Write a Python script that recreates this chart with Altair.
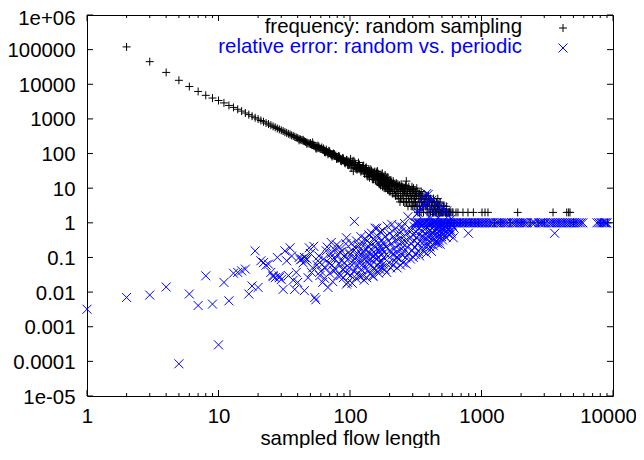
import json
import altair as alt
import pandas as pd

# ---------------- data ----------------
# frequency (random sampling): (sampled flow length, frequency)
freq_points = [
    (2, 120000), (3, 45000), (4, 22000), (5, 13000), (6, 8600), (7, 6200), (8, 4800), (9, 4000),
    (10, 3400), (11, 2900), (12, 2450), (13, 2150), (14, 1900), (15, 1680), (16, 1480), (17, 1330),
    (18, 1200), (19, 1080), (20, 990), (21, 900), (22, 830), (23, 760), (24, 710), (25, 660),
    (26, 610), (27, 570), (28, 530), (29, 500), (30, 470), (31, 445), (32, 415), (33, 395),
    (34, 372), (35, 355), (36, 335), (37, 322), (38, 305), (39, 290), (40, 278), (41, 266),
    (42, 255), (43, 245), (44, 234), (45, 226), (46, 216), (47, 209), (48, 200), (49, 193),
    (50, 187), (51, 180), (52, 176), (53, 168), (54, 163), (55, 158), (56, 154), (57, 148),
    (58, 145), (59, 140), (60, 136), (41, 240), (44, 250), (47, 190), (50, 200), (53, 180),
    (56, 140), (58, 160), (62, 128), (63, 125), (64, 121), (66, 115), (67, 110), (68, 108),
    (70, 103), (71, 98), (73, 95), (74, 91), (76, 87), (77, 84), (79, 80), (80, 78), (82, 75),
    (84, 72), (85, 69), (87, 66), (88, 64), (90, 62), (92, 59), (93, 57), (95, 56), (97, 53),
    (99, 51), (100, 50), (63, 140), (65, 108), (69, 120), (72, 90), (75, 100), (78, 88), (81, 70),
    (83, 82), (86, 60), (89, 72), (91, 55), (94, 66), (96, 48), (98, 60),
    (52, 210), (55, 140), (57, 170), (61, 150), (64, 110), (66, 130), (68, 95), (70, 115),
    (73, 82), (76, 97), (79, 70), (82, 85), (85, 62), (88, 75), (92, 52), (95, 64), (98, 46),
    (103, 49), (105, 46), (106, 31), (108, 44), (110, 47), (112, 40), (114, 43), (115, 36),
    (117, 41), (119, 35), (120, 39), (122, 33), (124, 37), (126, 31), (128, 35), (130, 30),
    (132, 33), (134, 28), (136, 31), (138, 26), (140, 30), (142, 25), (145, 28), (147, 23),
    (150, 27), (152, 22), (155, 25), (157, 20), (160, 23), (163, 19), (165, 22), (168, 17),
    (170, 20), (173, 16), (175, 19), (178, 15), (180, 18), (183, 14), (186, 17), (189, 13),
    (192, 15), (195, 12), (198, 14), (200, 11), (104, 60), (109, 55), (113, 34), (118, 48),
    (125, 44), (131, 38), (137, 22), (144, 35), (151, 18), (158, 30), (166, 14), (172, 24),
    (181, 12), (190, 20), (197, 9), (162, 31), (176, 27), (185, 24), (194, 21), (170, 13), (188, 11),
    (101, 70), (102, 38), (107, 62), (111, 36), (116, 55), (121, 30), (127, 45), (129, 26),
    (133, 40), (135, 22), (139, 36), (141, 20), (146, 32), (148, 18), (153, 30), (156, 17),
    (159, 27), (161, 15), (164, 26), (167, 13), (169, 24), (171, 12), (174, 22), (177, 11),
    (179, 21), (182, 10), (184, 19), (187, 10), (191, 18), (193, 9), (196, 16), (199, 8),
    (203, 16), (206, 10), (209, 13), (212, 11), (215, 14), (218, 9), (221, 12), (224, 8),
    (227, 11), (230, 10), (233, 7), (236, 12), (240, 9), (240, 4), (243, 8), (246, 11), (250, 7),
    (253, 9), (256, 6), (260, 8), (263, 10), (266, 7), (268, 16), (270, 6), (274, 8), (278, 5),
    (282, 7), (286, 9), (290, 6), (294, 5), (298, 7), (302, 4), (306, 6), (310, 5), (315, 4),
    (320, 6), (325, 3), (330, 5), (335, 4), (340, 3), (345, 5), (350, 4), (356, 3), (362, 2),
    (368, 4), (374, 3), (380, 3), (386, 2), (392, 4), (398, 2), (404, 3), (410, 2), (417, 3),
    (424, 2), (431, 2), (438, 3), (445, 2), (452, 2), (460, 3), (468, 2), (470, 3), (476, 2),
    (485, 4), (485, 2), (494, 1), (500, 3), (503, 2), (512, 2), (520, 3), (522, 1), (532, 2),
    (540, 3), (542, 2), (553, 1), (565, 2), (576, 2), (590, 1),
    (201, 17), (204, 8), (207, 15), (210, 7), (213, 16), (216, 7), (219, 13), (222, 6),
    (225, 14), (228, 6), (231, 13), (235, 5), (238, 12), (242, 5), (245, 13), (248, 5),
    (252, 11), (255, 4), (258, 10), (262, 4), (265, 12), (269, 4), (272, 10), (276, 3),
    (280, 11), (284, 4), (288, 8), (292, 3), (297, 9), (300, 3), (304, 10), (308, 3),
    (314, 7), (318, 3), (324, 8), (328, 2), (333, 7), (337, 2), (343, 6), (347, 2), (353, 6),
    (360, 5), (365, 3), (371, 5), (377, 4), (383, 6), (389, 3), (396, 5), (402, 4), (407, 2),
    (414, 4), (421, 3), (428, 4), (435, 2), (441, 3), (449, 3), (457, 2), (463, 3), (473, 2),
    (480, 3), (490, 2), (497, 2), (508, 2), (515, 3), (528, 2), (535, 2), (548, 2), (558, 2),
    (570, 2), (584, 2), (598, 2),
    (296, 11), (305, 9), (312, 8), (322, 10), (338, 7), (348, 8), (358, 6), (372, 6), (384, 5),
    (395, 6), (408, 5), (420, 4), (432, 5), (442, 4), (455, 4), (465, 5),
    (607, 2), (622, 1), (640, 2), (662, 2), (690, 1), (723, 2), (760, 1), (789, 2), (830, 1),
    (867, 2), (892, 1), (950, 1), (1009, 2), (1063, 2), (1120, 2), (1260, 1), (1400, 1),
    (1650, 1), (1884, 2), (2000, 1), (2340, 1), (2700, 1), (3000, 1), (3500, 2), (4450, 2),
    (4600, 2), (4710, 2), (5000, 1), (8000, 1), (9100, 1),
]

# relative error (random vs. periodic): scattered values below / above 1
err_points = [
    (1, 0.0032), (2, 0.007), (3, 0.0082), (4, 0.014), (5, 0.000085), (6, 0.0088), (7, 0.0041),
    (8, 0.0295), (9, 0.0045), (10, 0.0003), (11, 0.019), (12, 0.0056), (13, 0.035), (14, 0.037),
    (15, 0.041), (16, 0.046), (17, 0.0088), (18, 0.015), (19, 0.155), (20, 0.0136), (21, 0.08),
    (22, 0.071), (23, 0.06), (24, 0.064), (25, 0.037), (26, 0.028), (26, 0.03), (27, 0.026),
    (28, 0.1), (29, 0.026), (29, 0.029), (30, 0.023), (31, 0.012), (32, 0.155), (33, 0.08),
    (34, 0.03), (35, 0.19), (36, 0.11), (37, 0.022), (38, 0.012), (39, 0.037), (40, 0.019),
    (41, 0.1), (42, 0.085), (43, 0.09), (44, 0.07), (45, 0.1), (45, 0.011), (46, 0.08), (47, 0.09),
    (48, 0.026), (49, 0.19), (50, 0.13), (51, 0.037), (52, 0.05), (53, 0.21), (54, 0.007),
    (55, 0.006), (56, 0.06), (57, 0.08), (58, 0.11), (59, 0.03), (60, 0.04), (61, 0.062),
    (62, 0.019), (63, 0.09), (64, 0.025), (65, 0.05), (66, 0.155), (67, 0.2), (68, 0.0136),
    (69, 0.07), (70, 0.035), (71, 0.1), (72, 0.13), (72, 0.27), (73, 0.06), (74, 0.02), (75, 0.041),
    (76, 0.17), (77, 0.09), (78, 0.045), (79, 0.23), (80, 0.12), (81, 0.03), (82, 0.065), (83, 0.2),
    (84, 0.14), (85, 0.03), (86, 0.08), (87, 0.15), (88, 0.045), (89, 0.026), (90, 0.11),
    (91, 0.07), (92, 0.05), (93, 0.25), (94, 0.017), (94, 0.37), (95, 0.035), (96, 0.019),
    (97, 0.09), (98, 0.14), (99, 0.05),
    (100, 0.12), (101, 0.03), (102, 0.25), (103, 0.06), (104, 0.018), (105, 0.15), (106, 0.08),
    (107, 0.04), (108, 1.1), (109, 0.2), (110, 0.1), (111, 0.025), (112, 0.3), (113, 0.055),
    (114, 0.13), (115, 0.035), (116, 0.22), (117, 0.07), (118, 0.028), (119, 0.17), (120, 0.09),
    (121, 0.4), (122, 0.045), (123, 0.12), (124, 0.03), (125, 0.26), (126, 0.065), (127, 0.15),
    (128, 0.022), (129, 0.09), (130, 0.35), (131, 0.05), (132, 0.18), (133, 0.1), (134, 0.026),
    (135, 0.3), (136, 0.07), (137, 0.14), (138, 0.04), (139, 0.45), (140, 0.2), (141, 0.09),
    (142, 0.034), (143, 0.25), (144, 0.12), (145, 0.06), (146, 0.5), (147, 0.16), (148, 0.08),
    (149, 0.03), (150, 0.028), (151, 0.35), (152, 0.11), (153, 0.05), (154, 0.22), (155, 0.7),
    (156, 0.13), (157, 0.042), (158, 0.3), (159, 0.09), (160, 0.7), (161, 0.18), (162, 0.06),
    (163, 0.4), (164, 0.1), (165, 0.035), (166, 0.25), (167, 0.15), (168, 0.07), (169, 0.045),
    (170, 0.55), (171, 0.2), (172, 0.12), (173, 0.08), (174, 0.32), (175, 0.05), (176, 0.17),
    (177, 0.6), (178, 0.064), (179, 0.26), (180, 0.1),
    (182, 0.14), (184, 0.045), (186, 0.4), (188, 0.2), (190, 0.037), (192, 0.8), (194, 0.11),
    (196, 0.3), (198, 0.07), (200, 0.5), (202, 0.16), (204, 0.05), (206, 0.25), (208, 0.9),
    (210, 0.12), (212, 0.06), (214, 0.4), (216, 0.18), (218, 0.08), (220, 0.65), (222, 0.3),
    (224, 0.14), (226, 0.1), (228, 0.05), (230, 0.45), (232, 0.22), (234, 0.85), (236, 0.09),
    (238, 0.35), (240, 0.16), (242, 0.06), (244, 0.55), (246, 0.27), (248, 0.12), (250, 0.75),
    (252, 0.2), (254, 0.07), (256, 0.4), (258, 0.15), (260, 0.95),
    (262, 0.3), (265, 0.1), (268, 0.064), (270, 0.5), (273, 0.2), (276, 1.5), (279, 0.13),
    (282, 0.7), (285, 0.35), (288, 0.09), (291, 0.25), (294, 0.6), (297, 0.16), (300, 0.45),
    (303, 0.1), (306, 0.8), (309, 0.3), (312, 0.2), (315, 0.12), (318, 0.55), (321, 0.38),
    (324, 1.8), (327, 0.25), (330, 0.15), (333, 0.7), (336, 0.45), (339, 0.11), (342, 0.3),
    (345, 2.5), (348, 0.6), (351, 0.2), (354, 0.85), (357, 0.4), (360, 0.155), (363, 0.28),
    (366, 3.5), (369, 0.65), (372, 0.5), (375, 0.2), (378, 0.35), (381, 0.13), (383, 7),
    (386, 0.75), (389, 0.42), (392, 0.25), (395, 4.5), (398, 0.55), (400, 0.3),
    (351, 5.3), (394, 6.6), (383, 3.8), (456, 3.8), (512, 2.7), (341, 2.7), (544, 2.2),
    (330, 2.0), (370, 3.0), (420, 4.5), (480, 3.0), (500, 2.0), (560, 1.6), (420, 2.5),
    (400, 1.5), (440, 1.8), (470, 1.4), (590, 1.3),
    (403, 0.6), (406, 0.2), (410, 0.9), (413, 0.4), (416, 0.15), (420, 0.7), (423, 0.3),
    (426, 0.5), (430, 0.22), (433, 0.8), (436, 0.35), (440, 0.6), (443, 0.27), (446, 0.45),
    (450, 0.9), (453, 0.3), (456, 0.7), (460, 0.5), (463, 0.25), (467, 0.8), (470, 0.4),
    (474, 0.6), (478, 0.3), (482, 0.75), (485, 0.24), (489, 0.5), (493, 0.85), (497, 0.4),
    (501, 0.65), (505, 0.32), (510, 0.9), (514, 0.5), (518, 0.7), (523, 0.42), (527, 0.8),
    (532, 0.55), (537, 0.38), (542, 0.7), (547, 0.9), (552, 0.5), (557, 0.65), (562, 0.8),
    (568, 0.45), (574, 0.7), (580, 0.6), (590, 0.5), (600, 0.85), (610, 0.37), (620, 0.7),
    (794, 0.5), (3600, 0.5),
]

# relative error exactly 1: the dense band of long flows
err_band_x = [
    312, 318, 327, 333, 341, 349, 356, 366, 373, 381, 392, 399, 410, 418, 429, 437, 448, 459,
    467, 480, 491, 503, 514, 528, 539, 553, 566, 581, 594, 611, 627, 642, 660, 676, 695, 713,
    731, 752, 771, 793, 812, 836, 858, 881, 905, 931, 956, 983, 1010, 1038, 1067, 1097, 1130,
    1161, 1196, 1228, 1290, 1330, 1372, 1415, 1457, 1501, 1545, 1597, 1700, 1752, 1806, 1861,
    1920, 1978, 2041, 2100, 2165, 2230, 2410, 2480, 2555, 2720, 2800, 2885, 2970, 3060, 3250,
    3350, 3450, 3555, 3660, 3770, 3885, 4000, 4120, 4245, 4375, 4505, 4640, 4780, 4925, 5075,
    5230, 5390, 5550, 5720, 5900, 7550, 7800, 8050, 8250, 8450, 8650, 8800, 9000,
]
err_band_value = 1.0

x_tick_values = [1, 10, 100, 1000, 10000]
x_tick_labels = ["1", "10", "100", "1000", "10000"]
y_tick_values = [1e-5, 1e-4, 1e-3, 1e-2, 1e-1, 1, 10, 100, 1000, 10000, 100000, 1e6]
y_tick_labels = ["1e-05", "0.0001", "0.001", "0.01", "0.1", "1", "10", "100",
                 "1000", "10000", "100000", "1e+06"]
legend_labels = ["frequency: random sampling", "relative error: random vs. periodic"]
series_colors = ["#000000", "#0000ff"]
x_title = "sampled flow length"

# ---------------- tables ----------------
df_freq = pd.DataFrame(freq_points, columns=["x", "y"])
df_err = pd.DataFrame(err_points + [(v, err_band_value) for v in err_band_x], columns=["x", "y"])
x_minor = [m * d for d in x_tick_values[:-1] for m in range(2, 10)]
df_xmaj = pd.DataFrame({"x": x_tick_values})
df_xmin = pd.DataFrame({"x": x_minor})
df_ymaj = pd.DataFrame({"y": y_tick_values})
df_leg = pd.DataFrame({"label": legend_labels, "color": series_colors})

# ---------------- styling ----------------
W, H = 526, 381
FONT = "Liberation Sans"
FS = 20.4
MAJ, MIN = 6, 3
PLUS = "M-1,0L1,0M0,-1L0,1"
CROSS = "M-1,-1L1,1M-1,1L1,-1"

xs = alt.Scale(type="log", domain=[1, 10000])
ys = alt.Scale(type="log", domain=[1e-5, 1e6])

x_axis = alt.Axis(
    values=x_tick_values,
    labelExpr=f"{json.dumps(x_tick_labels)}[round(log(datum.value)/LN10)]",
    ticks=False, domain=False, grid=False,
    labelFont=FONT, labelFontSize=FS, labelColor="black", labelPadding=10,
    labelOffset={"condition": {"test": "datum.value >= 10000", "value": -5}, "value": 0},
    labelFlush=False, labelOverlap=False,
    title=x_title, titleFont=FONT, titleFontSize=FS, titleFontWeight="normal",
    titleColor="black", titlePadding=2,
)
y_axis = alt.Axis(
    values=y_tick_values,
    labelExpr=f"{json.dumps(y_tick_labels)}[round(log(datum.value)/LN10) + 5]",
    ticks=False, domain=False, grid=False,
    labelFont=FONT, labelFontSize=FS, labelColor="black", labelPadding=12,
    labelOffset={"condition": {"test": "datum.value >= 1000000", "value": 3}, "value": 1},
    labelFlush=False, labelOverlap=False, title=None,
)

X = alt.X("x:Q", scale=xs, axis=x_axis)
Y = alt.Y("y:Q", scale=ys, axis=y_axis)

freq = alt.Chart(df_freq).mark_point(
    shape=PLUS, filled=False, color=series_colors[0], strokeWidth=1, size=64, opacity=1, clip=False
).encode(x=X, y=Y)

err = alt.Chart(df_err).mark_point(
    shape=CROSS, filled=False, color=series_colors[1], strokeWidth=1, size=81, opacity=1, clip=False
).encode(x=X, y=Y)

tick_color = "black"
xmaj_b = alt.Chart(df_xmaj).mark_rule(color=tick_color, strokeWidth=1).encode(
    x=X, y=alt.value(H), y2=alt.value(H - MAJ))
xmaj_t = alt.Chart(df_xmaj).mark_rule(color=tick_color, strokeWidth=1).encode(
    x=X, y=alt.value(0), y2=alt.value(MAJ))
xmin_b = alt.Chart(df_xmin).mark_rule(color=tick_color, strokeWidth=1).encode(
    x=X, y=alt.value(H), y2=alt.value(H - MIN))
xmin_t = alt.Chart(df_xmin).mark_rule(color=tick_color, strokeWidth=1).encode(
    x=X, y=alt.value(0), y2=alt.value(MIN))
ymaj_l = alt.Chart(df_ymaj).mark_rule(color=tick_color, strokeWidth=1).encode(
    y=Y, x=alt.value(0), x2=alt.value(MAJ))
ymaj_r = alt.Chart(df_ymaj).mark_rule(color=tick_color, strokeWidth=1).encode(
    y=Y, x=alt.value(W - MAJ), x2=alt.value(W))

# legend (gnuplot style: right-aligned text, sample symbol to the right)
leg1_text = alt.Chart(df_leg.iloc[[0]]).mark_text(
    align="right", baseline="middle", font=FONT, fontSize=FS, color=series_colors[0]
).encode(text="label:N", x=alt.value(435), y=alt.value(12))
leg2_text = alt.Chart(df_leg.iloc[[1]]).mark_text(
    align="right", baseline="middle", font=FONT, fontSize=FS, color=series_colors[1]
).encode(text="label:N", x=alt.value(435), y=alt.value(32))
leg1_sym = alt.Chart(df_leg.iloc[[0]]).mark_point(
    shape=PLUS, filled=False, color=series_colors[0], strokeWidth=1, size=64, opacity=1
).encode(x=alt.value(476), y=alt.value(13))
leg2_sym = alt.Chart(df_leg.iloc[[1]]).mark_point(
    shape=CROSS, filled=False, color=series_colors[1], strokeWidth=1, size=81, opacity=1
).encode(x=alt.value(476), y=alt.value(33))

chart = alt.layer(
    freq, err, xmaj_b, xmaj_t, xmin_b, xmin_t, ymaj_l, ymaj_r,
    leg1_text, leg2_text, leg1_sym, leg2_sym,
).properties(
    width=W, height=H,
    autosize=alt.AutoSizeParams(type="none"),
    padding={"left": 79, "top": 7, "right": 23, "bottom": 52},
    background="white",
).configure_view(stroke="black", strokeWidth=1)

chart.save("out.html", embed_options={"renderer": "svg", "actions": False})
